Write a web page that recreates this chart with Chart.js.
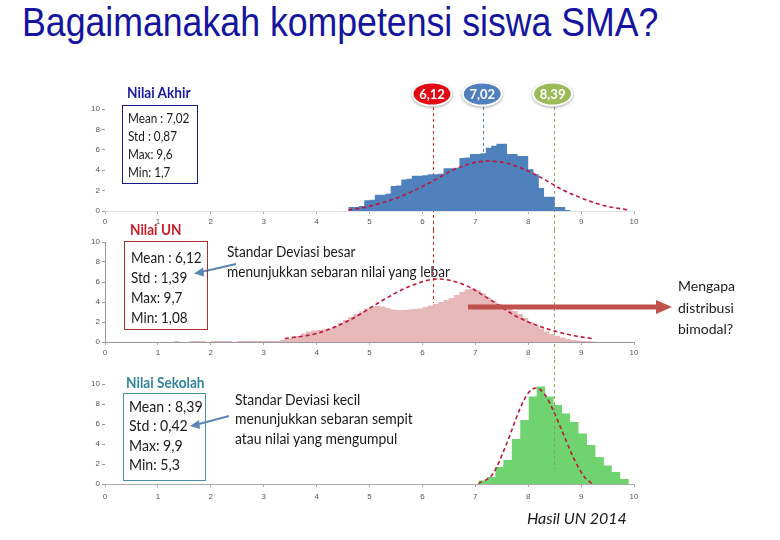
<!DOCTYPE html>
<html>
<head>
<meta charset="utf-8">
<script src="https://cdn.jsdelivr.net/npm/chart.js@4.4.1/dist/chart.umd.min.js"></script>
<style>
  body { margin: 0; background: #fff; }
  #page { position: relative; width: 780px; height: 540px; overflow: hidden; font-family: Lato, "Open Sans", sans-serif; color: #1a1a1a; }
  .box { position: absolute; left: 80px; }
  .t { position: absolute; white-space: nowrap; transform-origin: left top; }
  .frame { position: absolute; box-sizing: border-box; }
  #title { position: absolute; left: 22px; top: 2px; font: 41px/41px "Liberation Sans", Arial, sans-serif; color: #1414a0; transform: scaleX(0.87); transform-origin: left top; white-space: nowrap; }
  svg { position: absolute; left: 0; top: 0; }
</style>
</head>
<body>
<div id="page">
  <div id="title">Bagaimanakah kompetensi siswa SMA?</div>

  <div class="box" style="top:78px"><canvas id="akhir" width="580" height="152"></canvas></div>
  <div class="box" style="top:230px"><canvas id="un" width="580" height="130"></canvas></div>
  <div class="box" style="top:360px"><canvas id="sekolah" width="580" height="150"></canvas></div>

  <svg width="780" height="540">
    <line x1="236" y1="264" x2="201" y2="272" stroke="#5a86b6" stroke-width="2"/>
    <polygon points="194,273.5 203,267.5 204,276.5" fill="#5a86b6"/>
    <line x1="229" y1="416" x2="197" y2="424.5" stroke="#5a86b6" stroke-width="2"/>
    <polygon points="190,426 199,420 200,429" fill="#5a86b6"/>
    <line x1="468" y1="307" x2="658" y2="307" stroke="#c0504d" stroke-width="5"/>
    <polygon points="656,300 672,307 656,314" fill="#c0504d"/>
  </svg>

  <!-- Nilai Akhir -->
  <div class="t" style="left:127px;top:83px;font:bold 15px/19px Lato;color:#1a1aa0;transform:scaleX(0.91)">Nilai Akhir</div>
  <div class="frame" style="left:122px;top:105px;width:76px;height:79px;border:1.5px solid #1a1a8c"></div>
  <div class="t" style="left:128px;top:109px;font:13.5px/18px Lato;transform:scaleX(0.87)">Mean : 7,02<br>Std : 0,87<br>Max: 9,6<br>Min: 1,7</div>

  <!-- Nilai UN -->
  <div class="t" style="left:130px;top:219px;font:bold 16px/20px Lato;color:#c8202a;transform:scaleX(0.85)">Nilai UN</div>
  <div class="frame" style="left:124px;top:241px;width:84px;height:89px;border:1.5px solid #a83232"></div>
  <div class="t" style="left:131px;top:247px;font:15px/20px Lato;transform:scaleX(0.9)">Mean : 6,12<br>Std : 1,39<br>Max: 9,7<br>Min: 1,08</div>
  <div class="t" style="left:227px;top:242px;font:14.5px/20px Lato;transform:scaleX(0.94)">Standar Deviasi besar<br>menunjukkan sebaran nilai yang lebar</div>

  <!-- Nilai Sekolah -->
  <div class="t" style="left:126px;top:373px;font:bold 15px/19px Lato;color:#31859c;transform:scaleX(0.91)">Nilai Sekolah</div>
  <div class="frame" style="left:123px;top:393px;width:83px;height:88px;border:1px solid #4a8fa8"></div>
  <div class="t" style="left:129px;top:397px;font:15px/19.3px Lato;transform:scaleX(0.94)">Mean : 8,39<br>Std : 0,42<br>Max: 9,9<br>Min: 5,3</div>
  <div class="t" style="left:235px;top:390px;font:14.5px/19.3px Lato;transform:scaleX(0.96)">Standar Deviasi kecil<br>menunjukkan sebaran sempit<br>atau nilai yang mengumpul</div>

  <div class="t" style="left:678px;top:275px;font:14px/21.5px Lato">Mengapa<br>distribusi<br>bimodal?</div>
  <div class="t" style="left:527px;top:508px;font:italic 16px/20px Lato">Hasil UN 2014</div>
</div>

<script>
// vertical reference lines (axis value) and their badge labels
const markerValues = [6.2, 7.15, 8.48];
const markerLabels = ['6,12', '7,02', '8,39'];
const markerColors = ['#d42a2a', '#5a82b4', '#8c9a5a'];
const badgeColors = ['#e30613', '#4f7fbd', '#9bbb59'];

// Nilai Akhir: bin edges and heights
const akhirEdges = [4.6, 4.7, 4.8, 4.9, 5.0, 5.1, 5.2, 5.3, 5.4, 5.5, 5.6, 5.7, 5.8, 5.9, 6.0, 6.1, 6.2, 6.3, 6.4, 6.5, 6.6, 6.7,
  6.8, 6.9, 7.0, 7.1, 7.2, 7.3, 7.4, 7.5, 7.6, 7.7, 7.8, 7.9, 8.0, 8.1, 8.2, 8.3, 8.4, 8.5, 8.6, 8.7, 8.8, 8.9];
const akhirCounts = [0.3, 0.4, 0.4, 0.5, 1.05, 1.1, 1.6, 1.6, 1.7, 2.45, 2.5, 3.1, 3.15, 3.45, 3.45, 3.5, 3.6, 3.6, 3.65, 4.2, 4.2, 4.25,
  5.2, 5.25, 5.6, 5.6, 5.65, 6.2, 6.4, 6.6, 6.6, 5.6, 5.6, 5.4, 5.4, 4.1, 3.6, 2.25, 1.4, 1.4, 0.4, 0.4, 0.1];
const akhirCurveX = [4.6, 4.9, 5.17, 5.5, 5.8, 6.19, 6.57, 6.95, 7.26, 7.58, 7.96, 8.34, 8.6, 8.9, 9.2, 9.5, 9.9];
const akhirCurveY = [0.1, 0.35, 0.7, 1.25, 1.9, 2.9, 4.0, 4.7, 4.9, 4.7, 4.0, 3.0, 2.2, 1.5, 0.9, 0.45, 0.1];

// Nilai UN
const unEdges = [1.3, 1.4, 1.5, 1.6, 1.7, 1.8, 1.9, 2.0, 2.1, 2.2, 2.3, 2.4, 2.5, 2.6, 2.7, 2.8, 2.9, 3.0, 3.1, 3.2,
  3.3, 3.4, 3.5, 3.6, 3.7, 3.8, 3.9, 4.0, 4.1, 4.2, 4.3, 4.4, 4.5, 4.6, 4.7, 4.8, 4.9, 5.0, 5.1, 5.2, 5.3, 5.4,
  5.5, 5.6, 5.7, 5.8, 5.9, 6.0, 6.1, 6.2, 6.3, 6.4, 6.5, 6.6, 6.7, 6.8, 6.9, 7.0, 7.1, 7.2, 7.3, 7.4, 7.5, 7.6,
  7.7, 7.8, 7.9, 8.0, 8.1, 8.2, 8.3, 8.4, 8.5, 8.6, 8.7, 8.8, 8.9, 9.0, 9.1, 9.2, 9.3, 9.4];
const unCounts = [0.1, 0.1, 0, 0, 0.1, 0.1, 0.1, 0, 0.1, 0.1, 0.1, 0.1, 0, 0.1, 0.1, 0.1, 0.1, 0.1, 0.1, 0.1,
  0.1, 0.2, 0.3, 0.45, 0.6, 0.85, 1.05,
  1.15, 1.2, 1.25, 1.35, 1.6, 1.9, 2.2, 2.5, 2.8, 3.05,
  3.35, 3.55, 3.6, 3.55, 3.4, 3.25, 3.2, 3.2, 3.25, 3.3,
  3.35, 3.5, 3.65, 3.8, 4.0, 4.2, 4.4, 4.7, 5.0, 5.25,
  5.35, 5.2, 4.85, 4.45, 4.1, 3.8, 3.6, 3.4, 3.1, 2.8,
  2.4, 2.0, 1.65, 1.35, 1.05, 0.8, 0.6, 0.45, 0.3, 0.2,
  0.15, 0.1, 0.08, 0.05];
const unCurveX = [3.4, 4.0, 4.63, 5.26, 5.77, 6.3, 6.8, 7.29, 7.8, 8.43, 8.9, 9.2];
const unCurveY = [0.35, 0.85, 2.2, 4.2, 5.6, 6.3, 5.7, 4.2, 2.5, 1.2, 0.6, 0.35];

// Nilai Sekolah
const sekolahEdges = [7.06, 7.22, 7.38, 7.53, 7.69, 7.85, 8.01, 8.16, 8.32, 8.48, 8.64, 8.79, 8.95, 9.11, 9.27, 9.43,
  9.58, 9.74, 9.90, 10.0];
const sekolahCounts = [0.1, 0.35, 0.7, 1.7, 2.4, 4.5, 6.4, 8.75, 9.75, 8.75, 7.9, 7.05, 6.2, 5.05, 3.9, 2.7, 1.85, 1.2, 0.5];
const sekolahCurveX = [7.06, 7.33, 7.59, 7.85, 8.0, 8.15, 8.32, 8.47, 8.66, 8.85, 9.04, 9.2];
const sekolahCurveY = [0.05, 1.0, 4.0, 7.6, 9.1, 9.6, 8.9, 7.4, 5.05, 2.7, 0.85, 0.05];

const xTicks = { min: 0, max: 10, step: 1 };
const yTicks = { min: 0, max: 10, step: 2 };

function drawMarkers(chart, front) {
  const o = chart.options.plugins.markers;
  if (!o) return;
  const ctx = chart.ctx, xs = chart.scales.x, ys = chart.scales.y;
  o.lines.forEach(l => {
    if (!!l.front !== front) return;
    const x = Math.round(xs.getPixelForValue(markerValues[l.i])) + 0.5;
    const y0 = l.from === 'top' ? 0 : ys.getPixelForValue(l.from);
    const y1 = l.to === 'bottom' ? chart.height : ys.getPixelForValue(l.to);
    ctx.save();
    ctx.strokeStyle = markerColors[l.i];
    ctx.lineWidth = 1;
    ctx.setLineDash([3, 3]);
    ctx.beginPath();
    ctx.moveTo(x, y0);
    ctx.lineTo(x, y1);
    ctx.stroke();
    ctx.restore();
  });
}

const markerPlugin = {
  id: 'markers',
  beforeDatasetsDraw(chart) { drawMarkers(chart, false); },
  afterDatasetsDraw(chart) { drawMarkers(chart, true); },
  afterDraw(chart) {
    const o = chart.options.plugins.markers;
    if (!o || !o.badges) return;
    const ctx = chart.ctx;
    markerValues.forEach((v, i) => {
      const x = chart.scales.x.getPixelForValue(v) - 1;
      const y = 16;
      ctx.save();
      ctx.shadowColor = 'rgba(0,0,0,0.35)';
      ctx.shadowBlur = 3;
      ctx.shadowOffsetY = 1;
      ctx.beginPath();
      ctx.ellipse(x, y, 20.5, 12.5, 0, 0, Math.PI * 2);
      ctx.fillStyle = '#fff';
      ctx.fill();
      ctx.restore();
      ctx.save();
      ctx.beginPath();
      ctx.ellipse(x, y, 18.5, 10.5, 0, 0, Math.PI * 2);
      ctx.fillStyle = badgeColors[i];
      ctx.fill();
      ctx.fillStyle = '#fff';
      ctx.font = 'bold 13px Lato';
      ctx.textAlign = 'center';
      ctx.textBaseline = 'middle';
      ctx.fillText(markerLabels[i], x, y + 1);
      ctx.restore();
    });
  }
};

function histogram(edges, counts, color) {
  return {
    type: 'line',
    data: edges.map((e, i) => ({ x: e, y: i < counts.length ? counts[i] : 0 })),
    stepped: 'after',
    fill: 'origin',
    backgroundColor: color,
    borderColor: 'rgba(0,0,0,0)',
    borderWidth: 0,
    pointRadius: 0
  };
}

function curve(xs, ys) {
  return {
    type: 'line',
    data: xs.map((x, i) => ({ x: x, y: ys[i] })),
    borderColor: '#c0163a',
    borderWidth: 1.6,
    borderDash: [4, 3],
    tension: 0.4,
    cubicInterpolationMode: 'monotone',
    pointRadius: 0,
    fill: false
  };
}

function makeChart(id, hist, curveSet, o) {
  return new Chart(document.getElementById(id), {
    type: 'line',
    data: { datasets: [curveSet, hist] },
    options: {
      responsive: false,
      animation: false,
      layout: { padding: { top: o.top, right: 26, left: 0, bottom: 0 } },
      plugins: { legend: { display: false }, tooltip: { enabled: false }, markers: o.markers },
      scales: {
        x: {
          type: 'linear', min: xTicks.min, max: xTicks.max,
          afterFit(scale) { scale.height = o.xh; },
          ticks: { stepSize: xTicks.step, color: '#555', font: { family: 'Liberation Sans', size: 8 }, padding: o.xpad, maxRotation: 0 },
          grid: { drawOnChartArea: false, tickLength: 3, color: '#aaa' },
          border: { color: o.xBorder }
        },
        y: {
          min: yTicks.min, max: yTicks.max,
          afterFit(scale) { scale.width = 25; },
          ticks: { stepSize: yTicks.step, color: '#555', font: { family: 'Liberation Sans', size: 8 }, padding: 2 },
          grid: { drawOnChartArea: false, tickLength: 3, color: '#999' },
          border: { display: o.yBorder, color: '#999' }
        }
      }
    },
    plugins: [markerPlugin]
  });
}

makeChart('akhir', histogram(akhirEdges, akhirCounts, '#4f81bd'), curve(akhirCurveX, akhirCurveY), {
  top: 31, xh: 19, xpad: 3, xBorder: '#e2e2e2', yBorder: false,
  markers: {
    badges: true,
    lines: [
      { i: 0, from: 10.2, to: 'bottom' },
      { i: 1, from: 10.2, to: 0 },
      { i: 2, from: 10.2, to: 'bottom' }
    ]
  }
});

makeChart('un', histogram(unEdges, unCounts, '#e6b9b8'), curve(unCurveX, unCurveY), {
  top: 12, xh: 18, xpad: 3, xBorder: '#999', yBorder: true,
  markers: {
    lines: [
      { i: 0, from: 'top', to: 3.9 },
      { i: 2, from: 'top', to: 'bottom' }
    ]
  }
});

makeChart('sekolah', histogram(sekolahEdges, sekolahCounts, '#6fd36f'), curve(sekolahCurveX, sekolahCurveY), {
  top: 24, xh: 26, xpad: 5, xBorder: '#aaa', yBorder: false,
  markers: {
    lines: [
      { i: 2, from: 'top', to: 1.5, front: true }
    ]
  }
});
</script>
</body>
</html>
